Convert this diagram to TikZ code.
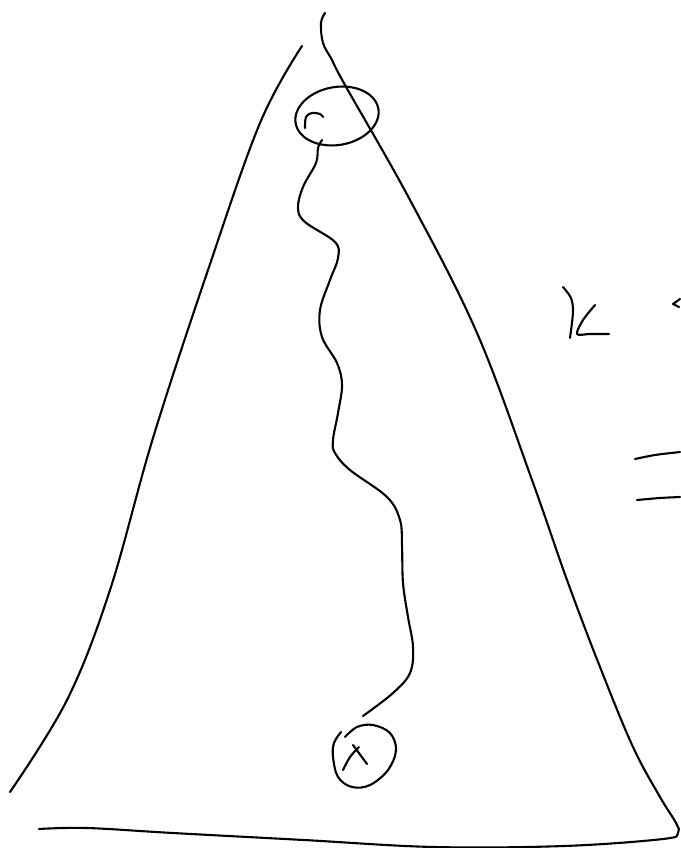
\documentclass[tikz,border=0pt]{standalone}
\begin{document}
\begin{tikzpicture}[x=1pt,y=-1pt,
  ink/.style={line width=2.1pt,line cap=round,line join=round,black}]
\useasboundingbox (0,0) rectangle (680,848);
% left side of triangle
\draw[ink] plot[smooth,tension=0.6] coordinates {(302,46) (260,123) (207,273) (153,438) (110,590) (67,700) (10,792)};
% right side and base
\draw[ink] plot[smooth,tension=0.6] coordinates {(325,13) (321,23) (323,43) (332,60) (345,85) (410,200) (477,333) (532,480) (567,580) (600,667) (633,747) (660,797) (676,823) (678,833) (663,839) (564,846) (434,847) (304,840) (173,833) (87,828) (39,829)};
% top ellipse
\draw[ink] plot[smooth cycle,domain=0:350,samples=36,variable=\t] ({337+42*cos(\t)*cos(-10)-29*sin(\t)*sin(-10)},{116+42*cos(\t)*sin(-10)+29*sin(\t)*cos(-10)});
% r inside ellipse
\draw[ink] plot[smooth,tension=0.6] coordinates {(305,128) (306,117) (312,113) (320,114) (323,117)};
% wiggly path
\draw[ink] plot[smooth,tension=0.6] coordinates {(322,140) (318,148) (316,163) (303,187) (298,208) (305,222) (335,242) (338,258) (330,280) (320,310) (322,337) (337,363) (342,385) (338,413) (333,440) (335,453) (350,470) (387,497) (400,520) (402,545) (403,583) (408,617) (413,647) (410,673) (393,693) (363,716)};
% bottom circle
\draw[ink] plot[smooth,tension=0.6] coordinates {(341,732) (334,743) (333,757) (338,777) (352,787) (370,785) (388,770) (396,750) (390,733) (373,725) (357,727) (345,737)};
% x inside bottom circle
\draw[ink] plot[smooth,tension=0.6] coordinates {(343,770) (350,757) (359,747)};
\draw[ink] (353,745) -- (367,764);
% K
\draw[ink] plot[smooth,tension=0.5] coordinates {(563,287) (571,298) (573,312) (570,338)};
\draw[ink] plot[smooth,tension=0.5] coordinates {(595,305) (583,320) (577,334) (590,334) (609,334)};
% < at right edge
\draw[ink] (680,299) -- (673,304) -- (679,307);
% = sign
\draw[ink] plot[smooth,tension=0.5] coordinates {(635,459) (655,455) (680,452)};
\draw[ink] plot[smooth,tension=0.5] coordinates {(637,500) (660,498) (680,497)};
\end{tikzpicture}
\end{document}
